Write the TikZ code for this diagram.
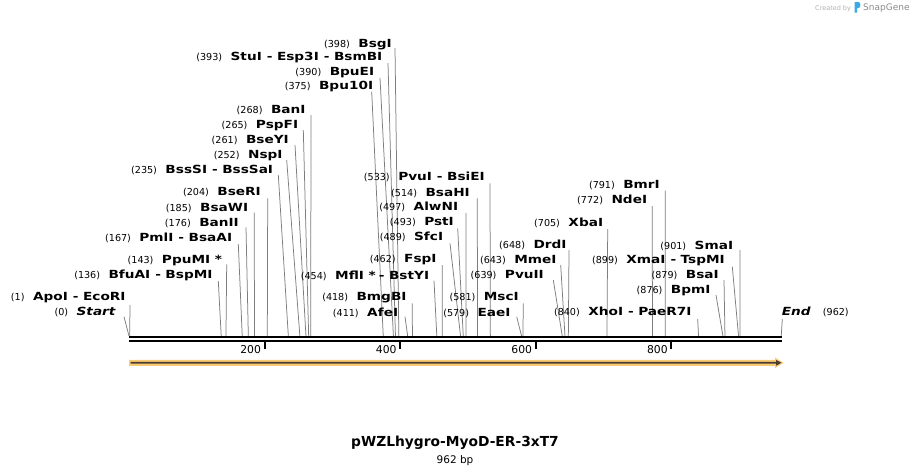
\documentclass[tikz,border=0pt]{standalone}
\usepackage{fontspec}
\setmainfont{DejaVu Sans}
\newfontfamily\nmf[FakeStretch=1.22]{DejaVu Sans}
\definecolor{linegray}{RGB}{125,125,125}
\definecolor{orng}{RGB}{250,202,115}
\definecolor{darkarrow}{RGB}{72,62,50}
\definecolor{logoblue}{RGB}{60,170,230}
\newcommand\nm[1]{{\nmf\bfseries\fontsize{11.2}{12}\selectfont #1}}
\newcommand\gp{\hspace{8.5pt}}
\newcommand\dsh{\hspace{5pt}\nm{-}\hspace{4.5pt}}
\newcommand\enz[7]{%
  \coordinate (t#1) at (#5,#6);
  \coordinate (b#1) at ({129+0.678*#7},336);
  \draw[conn] (t#1) -- (b#1);
  \node[lbl] (n#1) at (#2,#3+4.1) {#4};
}
\begin{document}
\begin{tikzpicture}[x=1pt,y=-1pt,
  lbl/.style={inner sep=0pt, font=\fontsize{9.6}{12}\selectfont, anchor=base east},
  conn/.style={draw=linegray, line width=0.75pt},
  ticklbl/.style={inner sep=0pt, font=\fontsize{10.8}{12}\selectfont, anchor=base east}]
\useasboundingbox (0,0) rectangle (912,475);
\fill[white] (0,0) rectangle (912,475);

% top group
\enz{BsgI}{392}{43.3}{(398)\gp\nm{BsgI}}{395}{48}{398}
\enz{StuI}{382.5}{56.7}{(393)\gp\nm{StuI}\dsh\nm{Esp3I}\dsh\nm{BsmBI}}{388}{63}{393}
\enz{BpuEI}{374.3}{71.7}{(390)\gp\nm{BpuEI}}{380}{78}{390}
\enz{BpuX}{373.3}{85}{(375)\gp\nm{Bpu10I}}{371.7}{91.7}{375}
% left group
\enz{BanI}{305.7}{109}{(268)\gp\nm{BanI}}{311}{115}{268}
\enz{PspFI}{298.3}{124.3}{(265)\gp\nm{PspFI}}{303.3}{130}{265}
\enz{BseYI}{289}{139.3}{(261)\gp\nm{BseYI}}{295}{145}{261}
\enz{NspI}{282.7}{154.3}{(252)\gp\nm{NspI}}{286.7}{160}{252}
\enz{BssSI}{273.3}{169}{(235)\gp\nm{BssSI}\dsh\nm{BssSaI}}{278.3}{175}{235}
\enz{BseRI}{261}{191.7}{(204)\gp\nm{BseRI}}{267.7}{198.3}{204}
\enz{BsaWI}{248.3}{207.3}{(185)\gp\nm{BsaWI}}{254.3}{212.7}{185}
\enz{BanII}{239}{222.3}{(176)\gp\nm{BanII}}{246}{227.3}{176}
\enz{PmlI}{232.3}{237.3}{(167)\gp\nm{PmlI}\dsh\nm{BsaAI}}{238.3}{244}{167}
\enz{PpuMI}{222.3}{259}{(143)\gp\nm{PpuMI *}}{226.7}{264.3}{143}
\enz{BfuAI}{212.7}{274}{(136)\gp\nm{BfuAI}\dsh\nm{BspMI}}{218.3}{281}{136}
\enz{ApoI}{125.7}{296.7}{(1)\gp\nm{ApoI}\dsh\nm{EcoRI}}{130}{305}{1}
\enz{Start}{115.7}{311}{(0)\gp\nm{\itshape Start}}{124}{316.7}{0}
% middle group
\enz{PvuI}{485}{176.7}{(533)\gp\nm{PvuI}\dsh\nm{BsiEI}}{490}{183.3}{533}
\enz{BsaHI}{470}{192.3}{(514)\gp\nm{BsaHI}}{477.3}{198.3}{514}
\enz{AlwNI}{458.3}{206.7}{(497)\gp\nm{AlwNI}}{466}{213}{497}
\enz{PstI}{454}{221.7}{(493)\gp\nm{PstI}}{457.7}{228.3}{493}
\enz{SfcI}{443.3}{236.7}{(489)\gp\nm{SfcI}}{450}{243.3}{489}
\enz{FspI}{436.7}{258.3}{(462)\gp\nm{FspI}}{442.3}{265}{462}
\enz{MflI}{429.3}{275}{(454)\gp\nm{MflI *}\hspace{3pt}\nm{-}\hspace{4.5pt}\nm{BstYI}}{434}{280.7}{454}
\enz{BmgBI}{406.7}{296.7}{(418)\gp\nm{BmgBI}}{412.3}{303.3}{418}
\enz{AfeI}{398.3}{312.7}{(411)\gp\nm{AfeI}}{405}{316.7}{411}
\enz{MscI}{519}{296.7}{(581)\gp\nm{MscI}}{523.3}{303.3}{581}
\enz{EaeI}{510.7}{312.7}{(579)\gp\nm{EaeI}}{516.7}{316.7}{579}
\enz{PvuII}{544}{274.3}{(639)\gp\nm{PvuII}}{553.3}{280}{639}
\enz{MmeI}{556.7}{259}{(643)\gp\nm{MmeI}}{560.7}{265}{643}
\enz{DrdI}{566.7}{244}{(648)\gp\nm{DrdI}}{569}{250}{648}
% right group
\enz{XbaI}{603.3}{222.3}{(705)\gp\nm{XbaI}}{607.7}{229}{705}
\enz{BmrI}{660}{184}{(791)\gp\nm{BmrI}}{665.3}{190.7}{791}
\enz{NdeI}{647.3}{199.3}{(772)\gp\nm{NdeI}}{652.3}{206}{772}
\enz{SmaI}{733.3}{245}{(901)\gp\nm{SmaI}}{740}{250}{901}
\enz{XmaI}{725}{259}{(899)\gp\nm{XmaI}\dsh\nm{TspMI}}{732.3}{266.7}{899}
\enz{BsaI}{719}{274}{(879)\gp\nm{BsaI}}{724}{280}{879}
\enz{BpmI}{710.7}{289}{(876)\gp\nm{BpmI}}{716}{295}{876}
\enz{XhoI}{691.7}{311.7}{(840)\gp\nm{XhoI}\dsh\nm{PaeR7I}}{697.7}{319}{840}
% End
\coordinate (tEnd) at (782.3,319);
\coordinate (bEnd) at ({129+0.678*962},336);
\draw[conn] (tEnd) -- (bEnd);
\node[lbl, anchor=base west] (nEnd) at (781.7,315.8) {\nm{\itshape End}};
\node[lbl, anchor=base west] (nEndNum) at (822.7,315.8) {(962)};

% sequence line
\coordinate (sa) at (129,337);
\coordinate (sb) at (782,337);
\coordinate (sc) at (129,341);
\coordinate (sd) at (782,341);
\draw[line width=2.4pt] (sa) -- (sb);
\draw[line width=1.8pt] (sc) -- (sd);
\foreach \v in {200,400,600,800}{
  \coordinate (tk\v) at ({129+0.678*\v},341);
  \draw[line width=2pt] (tk\v) -- ++(0,8);
  \node[ticklbl] (tl\v) at ({129+0.678*\v-3.5},353) {\v};
}

% feature arrow
\fill[orng] (129,359.8) -- (775,359.8) -- (775,357.5) -- (783.5,362.8) -- (775,368.1) -- (775,365.8) -- (129,365.8) -- cycle;
\fill[darkarrow] (130.5,361.9) -- (776,361.9) -- (776,359.9) -- (781.5,362.8) -- (776,365.7) -- (776,363.7) -- (130.5,363.7) -- cycle;

% title
\node[inner sep=0pt, anchor=base, font=\bfseries\fontsize{13.8}{15}\selectfont] (title) at (455,446) {pWZLhygro-MyoD-ER-3xT7};
\node[inner sep=0pt, anchor=base, font=\fontsize{10.5}{12}\selectfont] (bp) at (455,463) {962 bp};

% watermark
\node[inner sep=0pt, anchor=base west, text=black!30, font=\fontsize{6.5}{7}\selectfont] (cby) at (815,10) {Created by};
\fill[logoblue] (854.5,2) -- (858.5,2) .. controls (861,2) and (861,8) .. (858.5,8) -- (857,8) -- (857,12.5) -- (854.5,12.5) -- cycle;
\node[inner sep=0pt, anchor=base west, text=black!45, font=\fontsize{9}{10}\selectfont] (sg) at (863,10.7) {SnapGene};
\end{tikzpicture}
\end{document}
